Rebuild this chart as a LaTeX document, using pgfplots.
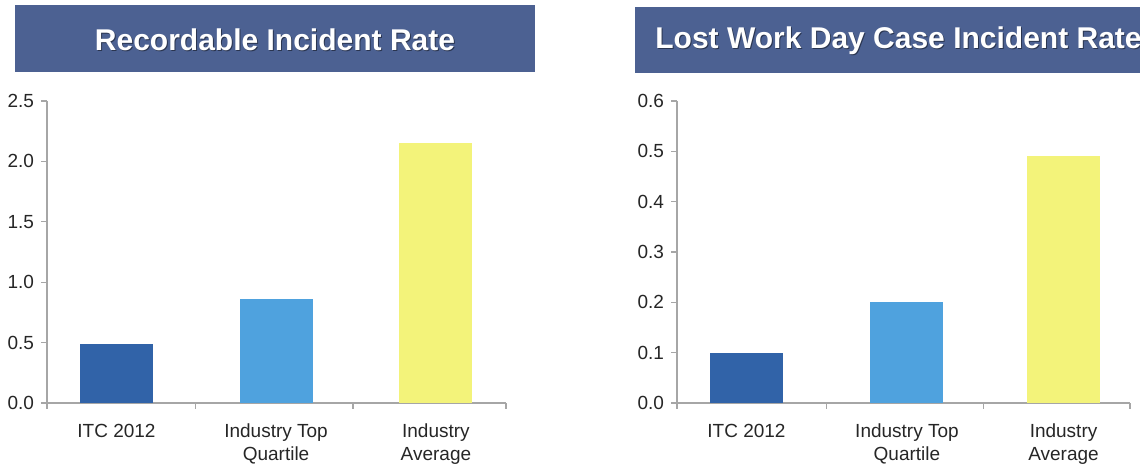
\documentclass[border=0pt]{standalone}
\usepackage{pgfplots}
\pgfplotsset{compat=1.18}
\usepackage{fontspec}
\setmainfont{Liberation Sans}
\definecolor{titlebg}{HTML}{4C6192}
\definecolor{titleshadow}{HTML}{2A3550}
\definecolor{darkbar}{HTML}{3163A8}
\definecolor{lightbar}{HTML}{4FA2DE}
\definecolor{yelbar}{HTML}{F3F37A}
\definecolor{axgray}{HTML}{A6A6A6}
\definecolor{txt}{HTML}{262626}
\pgfplotsset{rate/.style={
  scale only axis, height=151pt,
  ymin=0, xmin=0.5, xmax=3.5,
  axis lines*=left,
  axis line style={axgray, line width=0.6pt},
  tick style={axgray, line width=0.6pt},
  tick align=outside,
  major tick length=3pt, minor tick length=3pt,
  xticklabels={ITC 2012,{Industry Top\\Quartile},{Industry\\Average}},
  major x tick style={draw=none},
  x tick label style={align=center, font=\fontsize{9.5}{11.2}\selectfont, text=txt, yshift=-4pt},
  y tick label style={font=\fontsize{9.5}{11.2}\selectfont, text=txt},
  /pgf/number format/.cd, fixed, fixed zerofill, precision=1, assume math mode=true,
  /pgfplots/.cd,
  ybar, bar width=36.5pt, bar shift=0pt,
  clip=false,
}}
\begin{document}
\begin{tikzpicture}[x=0.5pt,y=0.5pt]
\useasboundingbox (0,0) rectangle (1140,464);
% title bars
\fill[titlebg] (15,392) rectangle (535,459);
\node[text=titleshadow, font=\bfseries\fontsize{15}{18}\selectfont] at (276,423) {Recordable Incident Rate};
\node[text=white, font=\bfseries\fontsize{15}{18}\selectfont] at (275,424) {Recordable Incident Rate};
\fill[titlebg] (635,391) rectangle (1170,457);
\node[anchor=west, inner sep=0pt, text=titleshadow, font=\bfseries\fontsize{15}{18}\selectfont] at (656,422) {Lost Work Day Case Incident Rate};
\node[anchor=west, inner sep=0pt, text=white, font=\bfseries\fontsize{15}{18}\selectfont] at (655,423) {Lost Work Day Case Incident Rate};
% left chart
\begin{axis}[rate, at={(23.5pt,30.5pt)}, anchor=south west, width=229.5pt,
  ymax=2.5, ytick={0,0.5,1,1.5,2,2.5},
  xtick={0.954,1.997,3.042}, minor xtick={0.5,1.47,2.5,3.5}]
\addplot[fill=darkbar, draw=none] coordinates {(0.954,0.49)};
\addplot[fill=lightbar, draw=none] coordinates {(1.997,0.86)};
\addplot[fill=yelbar, draw=none] coordinates {(3.042,2.15)};
\end{axis}
% right chart
\begin{axis}[rate, at={(338.5pt,30.5pt)}, anchor=south west, width=226.5pt,
  ymax=0.6, ytick={0,0.1,0.2,0.3,0.4,0.5,0.6},
  xtick={0.960,2.023,3.06}, minor xtick={0.5,1.49,2.53,3.5}]
\addplot[fill=darkbar, draw=none] coordinates {(0.960,0.1)};
\addplot[fill=lightbar, draw=none] coordinates {(2.023,0.2)};
\addplot[fill=yelbar, draw=none] coordinates {(3.06,0.49)};
\end{axis}
\end{tikzpicture}
\end{document}
